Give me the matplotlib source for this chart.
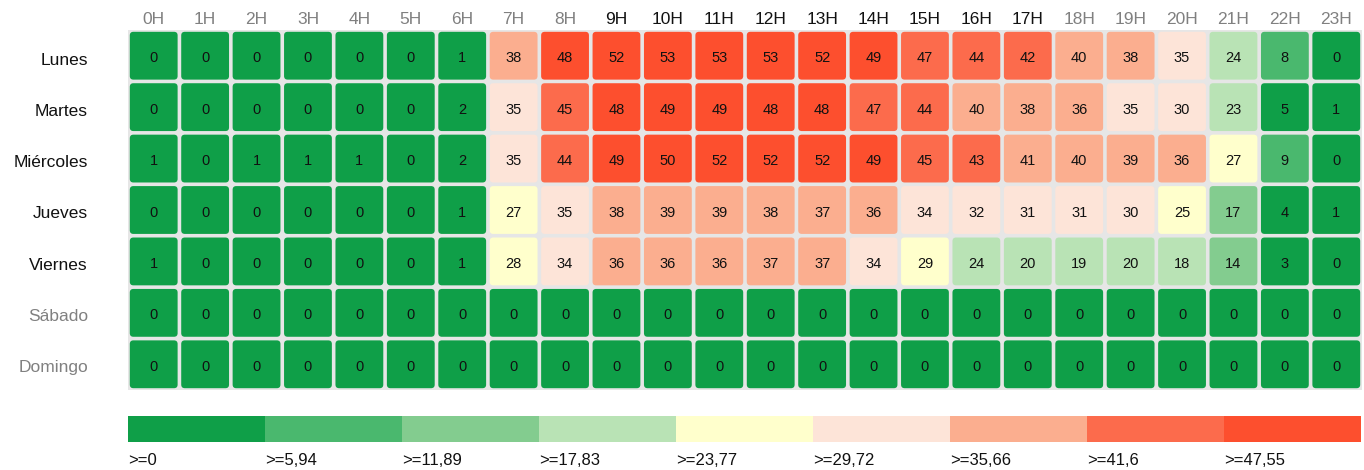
import numpy as np
import matplotlib
matplotlib.use("Agg")
import matplotlib.pyplot as plt
from matplotlib.patches import FancyBboxPatch, Rectangle

plt.rcParams['font.family'] = ['Liberation Sans', 'DejaVu Sans']

# datos
horas = [f"{h}H" for h in range(24)]
dias = ["Lunes", "Martes", "Miércoles", "Jueves", "Viernes", "Sábado", "Domingo"]
horas_activas = list(range(9, 18))
dias_activos = [0, 1, 2, 3, 4]

lunes = [0, 0, 0, 0, 0, 0, 1, 38, 48, 52, 53, 53, 53, 52, 49, 47, 44, 42, 40, 38, 35, 23.7, 8, 0]
martes = [0, 0, 0, 0, 0, 0, 2, 35, 45, 48, 49, 49, 48, 48, 47, 44, 40, 38, 36, 35, 30, 23, 5, 1]
miercoles = [1, 0, 1, 1, 1, 0, 2, 35, 44, 49, 50, 52, 52, 52, 49, 45, 43, 41, 40, 39, 36, 27, 9, 0]
jueves = [0, 0, 0, 0, 0, 0, 1, 27, 35, 38, 39, 39, 38, 37, 36, 34, 32, 31, 31, 30, 25, 17, 4, 1]
viernes = [1, 0, 0, 0, 0, 0, 1, 28, 34, 36, 36, 36, 37, 37, 34, 29, 23.7, 20, 19, 20, 18, 14, 3, 0]
sabado = [0] * 24
domingo = [0] * 24

umbrales = [0, 5.94, 11.89, 17.83, 23.77, 29.72, 35.66, 41.6, 47.55]
colores = ["#0f9f48", "#4ab86e", "#83cc8f", "#b9e3b5", "#ffffcc",
           "#fde4d8", "#fbae8f", "#fc6b4c", "#fd4f2e"]

valores = np.array([lunes, martes, miercoles, jueves, viernes, sabado, domingo])

W, H = 1364, 470
fig = plt.figure(figsize=(W / 100, H / 100), dpi=100)

# mapa de calor
x0, x1, y0, y1 = 128, 1362, 30, 390
ax = fig.add_axes([x0 / W, 1 - y1 / H, (x1 - x0) / W, (y1 - y0) / H])
ax.set_xlim(0, 24)
ax.set_ylim(7, 0)
ax.set_facecolor("#e6e6e6")
for s in ax.spines.values():
    s.set_visible(False)
ax.set_xticks([])
ax.set_yticks([])

g = 0.035
for i in range(len(dias)):
    for j in range(len(horas)):
        v = valores[i, j]
        k = np.searchsorted(umbrales, v, side="right") - 1
        ax.add_patch(FancyBboxPatch((j + g, i + g), 1 - 2 * g, 1 - 2 * g,
                                    boxstyle="round,pad=0,rounding_size=0.07",
                                    fc=colores[k], ec="none"))
        ax.text(j + 0.5, i + 0.55, f"{int(round(v))}", ha="center", va="center",
                fontsize=10.5, color="#111111")

for j, h in enumerate(horas):
    c = "#111111" if j in horas_activas else "#808080"
    ax.text(j + 0.5, -0.2, h, ha="center", va="center", fontsize=12.5, color=c)

for i, d in enumerate(dias):
    c = "#111111" if i in dias_activos else "#808080"
    fig.text(88 / W, 1 - (y0 + 5 + (i + 0.5) * (y1 - y0 - 2) / 7) / H, d,
             ha="right", va="center", fontsize=12.5, color=c)

# leyenda
lx0, lx1, ly0, ly1 = 128, 1361, 416, 442
lax = fig.add_axes([lx0 / W, 1 - ly1 / H, (lx1 - lx0) / W, (ly1 - ly0) / H])
lax.set_xlim(0, len(umbrales))
lax.set_ylim(0, 1)
lax.axis("off")
for k, (u, c) in enumerate(zip(umbrales, colores)):
    lax.add_patch(Rectangle((k, 0), 1, 1, fc=c, ec="none"))
    etiqueta = ">=" + f"{u:g}".replace(".", ",")
    lax.text(k, -0.7, etiqueta, ha="left", va="center", fontsize=12,
             color="#111111", transform=lax.transData, clip_on=False,
             family=["Liberation Sans Narrow", "Liberation Sans", "DejaVu Sans"])

fig.savefig("out.png", dpi=100)
